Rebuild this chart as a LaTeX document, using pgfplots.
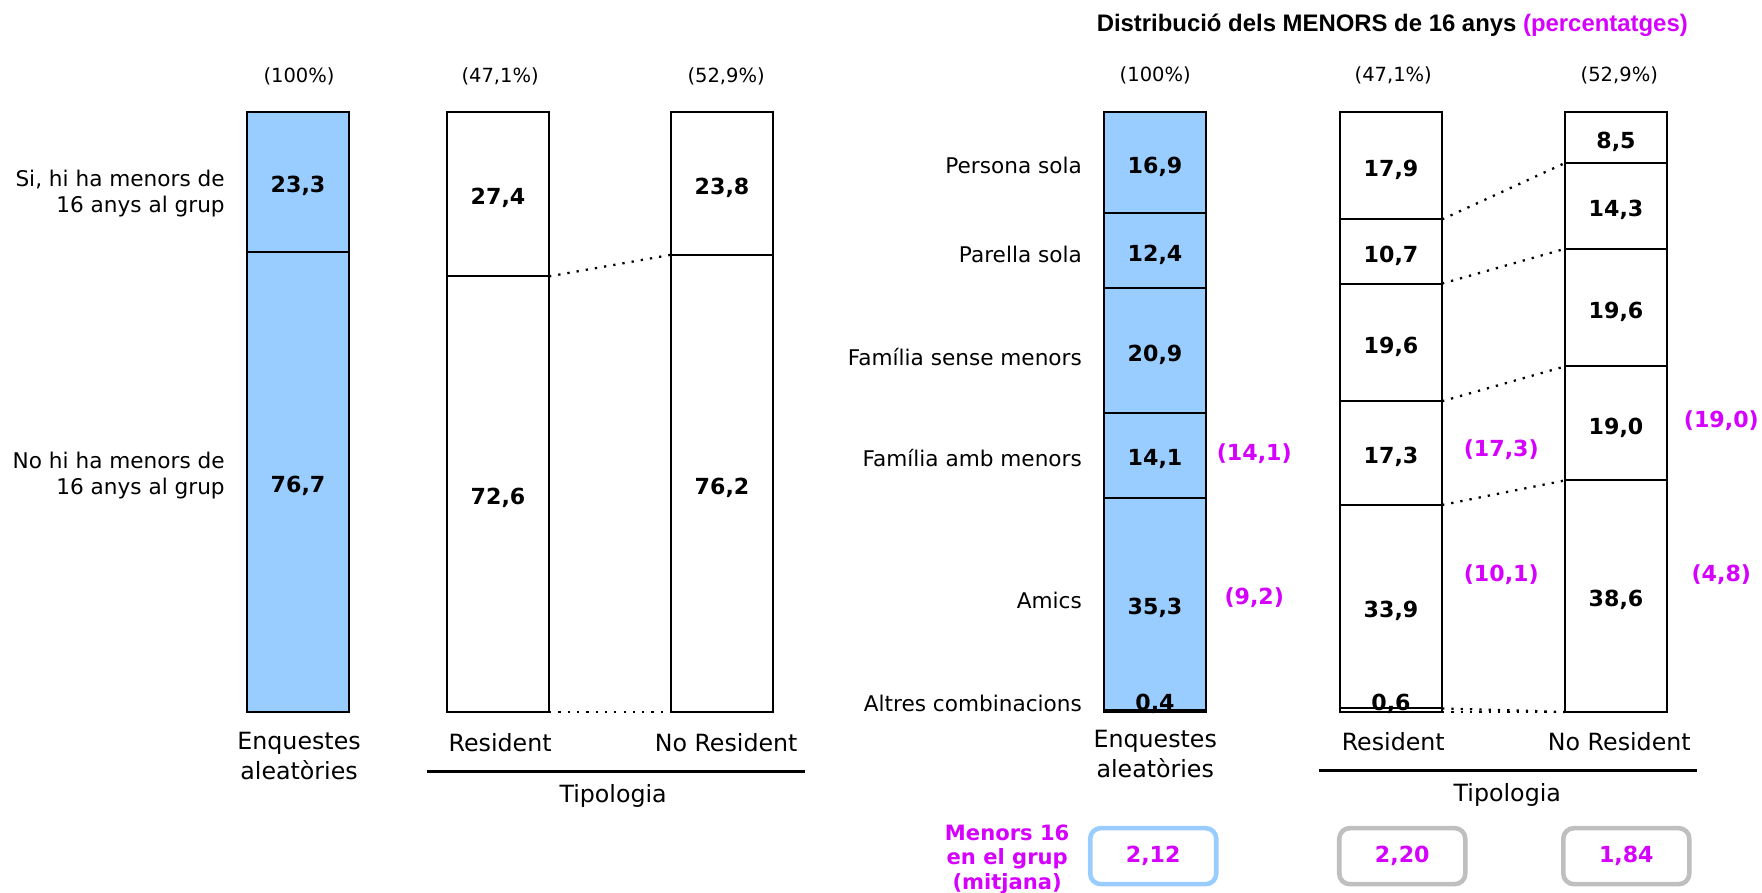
\documentclass[border=0pt]{standalone}
\usepackage{fontspec}
\setmainfont{DejaVu Sans}
\newfontfamily\titlefont{Liberation Sans}
\usepackage{pgfplots}
\pgfplotsset{compat=1.18}

\definecolor{barblue}{RGB}{153,204,255}
\definecolor{mag}{RGB}{214,0,255}
\definecolor{boxgray}{RGB}{191,191,191}

\newcommand\labf{\fontsize{12.3}{14.8}\selectfont}
\newcommand\catf{\fontsize{13.5}{16.7}\selectfont}
\newcommand\pctf{\fontsize{11.1}{13}\selectfont}
\newcommand\numf{\fontsize{12.6}{14}\selectfont\bfseries}

\tikzset{dots/.style={line width=1.3pt, dash pattern=on 1.3pt off 4pt}}

% one axis = the whole picture: x in pixels, y in percent (0 at bar foot, 6 px per %)
\pgfplotsset{
  canvas/.style={
    scale only axis, width=35.24cm, height=17.86cm,
    xmin=0, xmax=1762, ymin=-30.1667, ymax=118.6667,
    hide axis, clip=false,
    ybar stacked, bar width=102,
    /pgf/number format/use comma,
    /pgf/number format/fixed,
    /pgf/number format/fixed zerofill,
    /pgf/number format/precision=1,
    /pgf/number format/assume math mode=true,
    visualization depends on={rawy \as \rawy},
    nodes near coords={\pgfmathprintnumber{\rawy}},
    % stacked labels already sit in the middle of their segment
    every node near coord/.style={font=\numf, text=black, anchor=center,
      inner sep=0pt, yshift=-0.08cm},
  },
  seg/.style={fill=white, draw=black, line width=1.2pt},
  blueseg/.style={fill=barblue, draw=black, line width=1.2pt},
  low/.style={every node near coord/.style={font=\numf, text=black,
      anchor=base, inner sep=0pt}},
}

\begin{document}
\begin{tikzpicture}

% left panel: Enquestes aleatories
\begin{axis}[canvas]
\coordinate (BL) at (rel axis cs:0,0);
\coordinate (TR) at (rel axis cs:1,1);
\coordinate (TL) at (rel axis cs:0,1);
\addplot[blueseg] coordinates {(298,76.7)};
\addplot[blueseg] coordinates {(298,23.3)};
\end{axis}

% left panel: Resident / No Resident
\begin{axis}[canvas]
\addplot[seg] coordinates {(498,72.6) (722,76.2)};
\addplot[seg] coordinates {(498,27.4) (722,23.8)};
\draw[dots] (axis cs:549,72.6) -- (axis cs:671,76.2);
\draw[dots] (axis cs:549,0) -- (axis cs:671,0);
\end{axis}

% right panel: Enquestes aleatories
\begin{axis}[canvas]
\addplot[blueseg, low] coordinates {(1155,0.4)};
\addplot[blueseg] coordinates {(1155,35.3)};
\addplot[blueseg] coordinates {(1155,14.1)};
\addplot[blueseg] coordinates {(1155,20.9)};
\addplot[blueseg] coordinates {(1155,12.4)};
\addplot[blueseg] coordinates {(1155,16.9)};
\end{axis}

% right panel: Resident / No Resident
\begin{axis}[canvas]
\addplot[seg, low] coordinates {(1391,0.6) (1616,0.0)};
\addplot[seg] coordinates {(1391,33.9) (1616,38.6)};
\addplot[seg] coordinates {(1391,17.3) (1616,19.0)};
\addplot[seg] coordinates {(1391,19.6) (1616,19.6)};
\addplot[seg] coordinates {(1391,10.7) (1616,14.3)};
\addplot[seg] coordinates {(1391,17.9) (1616,8.5)};
\draw[dots] (axis cs:1442,0.6) -- (axis cs:1565,0.0);
\draw[dots] (axis cs:1442,0) -- (axis cs:1565,0);
\draw[dots] (axis cs:1442,34.5) -- (axis cs:1565,38.6);
\draw[dots] (axis cs:1442,51.8) -- (axis cs:1565,57.6);
\draw[dots] (axis cs:1442,71.4) -- (axis cs:1565,77.2);
\draw[dots] (axis cs:1442,82.1) -- (axis cs:1565,91.5);
\end{axis}

% texts, in pixels from the top left corner
\begin{scope}[shift={(TL)}, x=0.02cm, y=-0.02cm, every node/.style={inner sep=0pt}]
\node[font={\titlefont\fontsize{13.6}{16}\selectfont\bfseries}] at (1392,25)
  {Distribució dels MENORS de 16 anys \textcolor{mag}{(percentatges)}};

\node[font=\pctf] at (299,76) {(100\%)};
\node[font=\pctf] at (500,76) {(47,1\%)};
\node[font=\pctf] at (726,76) {(52,9\%)};
\node[font=\pctf] at (1155,75) {(100\%)};
\node[font=\pctf] at (1393,75) {(47,1\%)};
\node[font=\pctf] at (1619,75) {(52,9\%)};

\node[font=\labf, anchor=east, align=right] at (225,194) {Si, hi ha menors de\\16 anys al grup};
\node[font=\labf, anchor=east, align=right] at (225,475) {No hi ha menors de\\16 anys al grup};

\node[font=\labf, anchor=east] at (1082,165) {Persona sola};
\node[font=\labf, anchor=east] at (1082,254) {Parella sola};
\node[font=\labf, anchor=east] at (1082,357) {Família sense menors};
\node[font=\labf, anchor=east] at (1082,458) {Família amb menors};
\node[font=\labf, anchor=east] at (1082,600) {Amics};
\node[font=\labf, anchor=east] at (1082,703) {Altres combinacions};

\node[font=\catf, align=center] at (299,756) {Enquestes\\aleatòries};
\node[font=\catf] at (500,743) {Resident};
\node[font=\catf] at (726,743) {No Resident};
\draw[line width=1.6pt] (427,771) -- (805,771);
\node[font=\catf] at (613,796) {Tipologia};

\node[font=\catf, align=center] at (1155,754) {Enquestes\\aleatòries};
\node[font=\catf] at (1393,742) {Resident};
\node[font=\catf] at (1619,742) {No Resident};
\draw[line width=1.6pt] (1319,770) -- (1697,770);
\node[font=\catf] at (1507,795) {Tipologia};

\node[font=\numf, text=mag] at (1254,454) {(14,1)};
\node[font=\numf, text=mag] at (1254,598) {(9,2)};
\node[font=\numf, text=mag] at (1501,450) {(17,3)};
\node[font=\numf, text=mag] at (1501,575) {(10,1)};
\node[font=\numf, text=mag] at (1721,421) {(19,0)};
\node[font=\numf, text=mag] at (1721,575) {(4,8)};

\node[font={\fontsize{12}{13.9}\selectfont\bfseries}, text=mag, align=center] at (1007,859)
  {Menors 16\\en el grup\\(mitjana)};
\draw[barblue, line width=2.6pt, rounded corners=6pt] (1090,828) rectangle (1216,884);
\draw[boxgray, line width=2.6pt, rounded corners=6pt] (1339,828) rectangle (1465,884);
\draw[boxgray, line width=2.6pt, rounded corners=6pt] (1563,828) rectangle (1689,884);
\node[font=\numf, text=mag] at (1153,856) {2,12};
\node[font=\numf, text=mag] at (1402,856) {2,20};
\node[font=\numf, text=mag] at (1626,856) {1,84};
\end{scope}

\pgfresetboundingbox
\useasboundingbox (BL) rectangle (TR);
\end{tikzpicture}
\end{document}
